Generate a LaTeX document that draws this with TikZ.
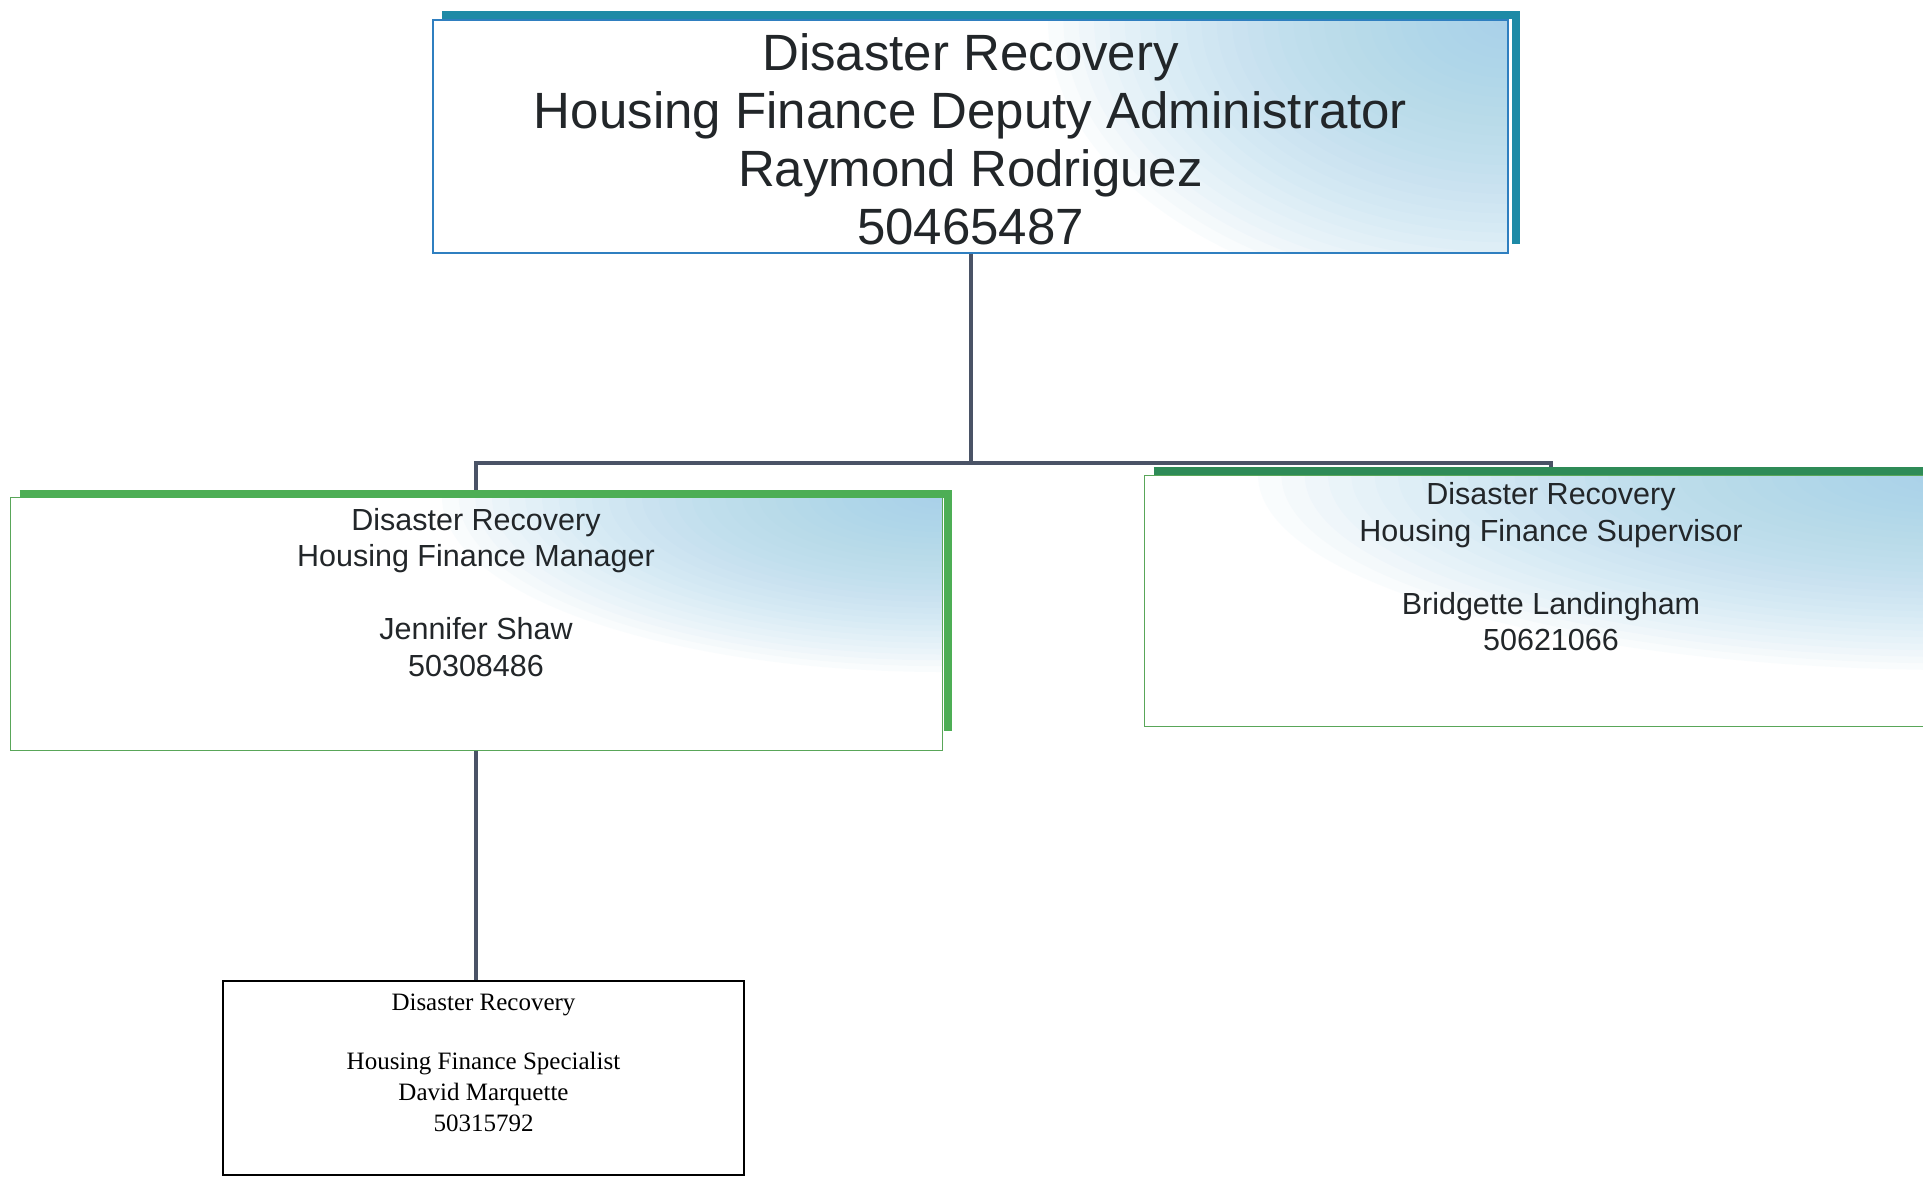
\documentclass[tikz,border=0pt]{standalone}
\usepackage{fontspec}
\setmainfont{Liberation Sans}
\newfontfamily\serifface{Liberation Serif}

\definecolor{tealline}{HTML}{2F7FC0}
\definecolor{tealbar}{HTML}{1E8AA6}
\definecolor{greenbar}{HTML}{4DAE55}
\definecolor{darkgreenbar}{HTML}{2E8B57}
\definecolor{skyfade}{HTML}{9CCFE9}
\definecolor{linkgray}{HTML}{4A5366}
\definecolor{inkgray}{HTML}{222629}

\begin{document}
\begin{tikzpicture}[
    x = 1pt,
    y = -1pt,
    box/.style = {
      draw,
      fill = white,
      rectangle,
      inner sep = 0pt
    },
    fadebox/.style 2 args = {
      box,
      path picture = {
        \foreach \k in {1,...,30}
          \fill[skyfade, opacity=0.05] (path picture bounding box.north east)
            ellipse [x radius=#1/30*\k, y radius=#2/30*\k];
      }
    },
    link/.style = {draw=linkgray, line width=4pt},
    bar/.style = {line width=8pt, line join=miter},
    title/.style = {inner sep=0pt, anchor=north, align=center, text=inkgray}
  ]
  \useasboundingbox (0,0) rectangle (1923,1179);

  \node[fadebox={460pt}{290pt}, draw=tealline, line width=1.5pt,
        minimum width=1075pt, minimum height=233pt] (adm) at (970.5,136.5) {};
  \node[fadebox={500pt}{175pt}, draw=gray!70!green, line width=1pt,
        minimum width=932pt, minimum height=253pt] (mgr) at (476,623.5) {};
  \node[fadebox={700pt}{195pt}, draw=gray!70!green, line width=1pt,
        minimum width=814pt, minimum height=251pt] (sup) at (1551,600.5) {};
  \node[box, draw=black, line width=1.5pt,
        minimum width=521pt, minimum height=194pt] (spec) at (483.5,1078) {};

  \coordinate (bus) at (adm.south |- 0,463);

  \draw[link] (adm.south) -- (bus);
  \draw[link] (mgr.north) |- (bus) -| (sup.north);
  \draw[link] (mgr.south) -- (mgr.south |- spec.north);

  % shadow bars
  \draw[bar, tealbar] ([xshift=10pt,yshift=4pt]adm.north west)
    -- ([xshift=7pt,yshift=4pt]adm.north east)
    -- ([xshift=7pt,yshift=10pt]adm.south east);
  \draw[bar, greenbar] ([xshift=10pt,yshift=3pt]mgr.north west)
    -- ([xshift=5pt,yshift=3pt]mgr.north east)
    -- ([xshift=5pt,yshift=20pt]mgr.south east);
  \draw[bar, darkgreenbar] ([xshift=10pt,yshift=4pt]sup.north west)
    -- ([yshift=4pt]sup.north east);

  \node[title, font=\fontsize{51}{58}\selectfont] (admtext)
    at ([yshift=-14.5pt]adm.north)
    {Disaster Recovery\\Housing Finance Deputy Administrator\\Raymond Rodriguez\\50465487};
  \node[title, font=\fontsize{30.5}{36.5}\selectfont] (mgrtext)
    at ([yshift=-11.5pt]mgr.north)
    {Disaster Recovery\\Housing Finance Manager\\[36.5pt]Jennifer Shaw\\50308486};
  \node[title, font=\fontsize{30.5}{36.5}\selectfont] (suptext)
    at ([yshift=-8pt]sup.north)
    {Disaster Recovery\\Housing Finance Supervisor\\[36.5pt]Bridgette Landingham\\50621066};
  \node[title, text=black, font=\serifface\fontsize{25}{31}\selectfont] (spectext)
    at ([yshift=-13.5pt]spec.north)
    {Disaster Recovery\\[28pt]Housing Finance Specialist\\David Marquette\\50315792};

\end{tikzpicture}
\end{document}
